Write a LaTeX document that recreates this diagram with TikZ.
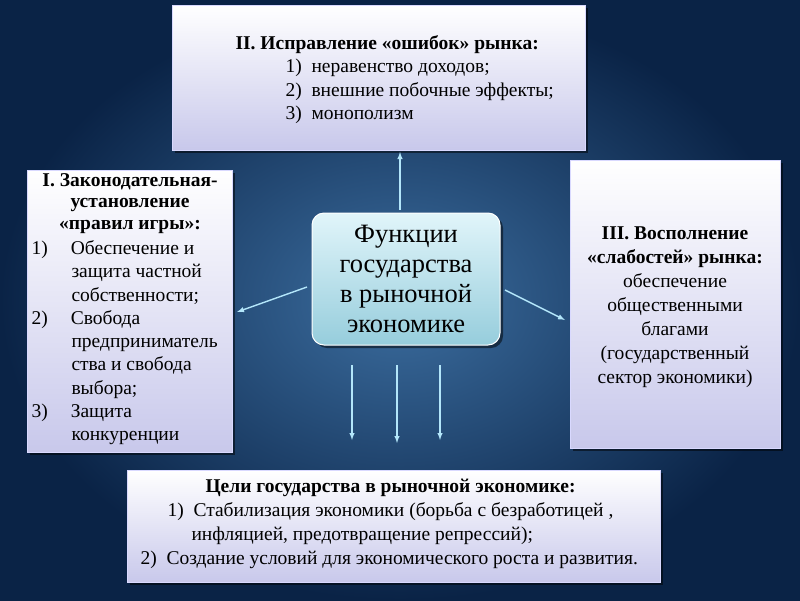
\documentclass[tikz,border=0pt]{standalone}
\usepackage{fontspec}
\setmainfont{Liberation Serif}
\usetikzlibrary{shadows}
\begin{document}
\begin{tikzpicture}[x=1pt,y=-1pt,
  box/.style={draw=white!85!blue,line width=0.6pt,top color=white,bottom color={rgb,255:red,200;green,200;blue,235},
    drop shadow={shadow xshift=3pt,shadow yshift=-3pt,fill=black,opacity=0.5},anchor=north west,inner sep=4pt},
  arr/.style={->,draw=cyan!30!white,line width=1.4pt,>={latex}}]
\useasboundingbox (0,0) rectangle (800,600);
\shade[inner color={rgb,255:red,60;green,110;blue,160},outer color={rgb,255:red,10;green,35;blue,70}] (0,0) rectangle (800,600);
% top
\node[box,minimum width=413pt,minimum height=145pt] (top) at (172,5) {};
\node[anchor=north west,align=left,font=\fontsize{19.5}{23.5}\selectfont] (toptxt) at (232,32) {\textbf{II. Исправление «ошибок» рынка:}\\
\hspace*{50pt}1)\ \ неравенство доходов;\\
\hspace*{50pt}2)\ \ внешние побочные эффекты;\\
\hspace*{50pt}3)\ \ монополизм};
% left
\node[box,minimum width=205pt,minimum height=282pt] (left) at (27,170) {};
\node[anchor=north,align=center,font=\fontsize{19.5}{21.5}\selectfont] (lt) at (130,170) {\textbf{I. Законодательная-}\\ \textbf{установление}\\ \textbf{«правил игры»:}};
\node[anchor=north west,align=left,font=\fontsize{19.5}{23.3}\selectfont] (ll) at (28,237) {1)\hspace{23pt}Обеспечение и\\
\hspace*{40pt}защита частной\\
\hspace*{40pt}собственности;\\
2)\hspace{23pt}Свобода\\
\hspace*{40pt}предприниматель\\
\hspace*{40pt}ства и свобода\\
\hspace*{40pt}выбора;\\
3)\hspace{23pt}Защита\\
\hspace*{40pt}конкуренции};
% right
\node[box,minimum width=210pt,minimum height=288pt] (right) at (570,160) {};
\node[align=center,font=\fontsize{19.5}{24}\selectfont] (rt) at (675,307) {\textbf{III. Восполнение}\\ \textbf{«слабостей» рынка:}\\ обеспечение\\ общественными\\ благами\\ (государственный\\ сектор экономики)};
% bottom
\node[box,minimum width=533pt,minimum height=112pt] (bot) at (127,470) {};
\node[anchor=north west,align=left,font=\fontsize{19.5}{24}\selectfont] (bt) at (137,476) {\hspace*{65pt}\textbf{Цели государства в рыночной экономике:}\\
\hspace*{27pt}1)\ \ Стабилизация экономики (борьба с безработицей ,\\
\hspace*{51pt}инфляцией, предотвращение репрессий);\\
\hspace*{0pt}2)\ \ Создание условий для экономического роста и развития.};
% center
\node[draw=white,line width=1pt,rounded corners=12pt,minimum width=188pt,minimum height=132pt,
  top color={rgb,255:red,225;green,245;blue,250},bottom color={rgb,255:red,150;green,205;blue,220},
  drop shadow={shadow xshift=3pt,shadow yshift=-3pt,fill=black,opacity=0.5},
  align=center,font=\fontsize{26.5}{30}\selectfont] (c) at (406,279) {Функции\\ государства\\ в рыночной\\ экономике};
% arrows
\coordinate (d1) at (352,440); \coordinate (d2) at (397,443); \coordinate (d3) at (440,440);
\coordinate (s1) at (352,365); \coordinate (s2) at (397,365); \coordinate (s3) at (440,365);
\draw[arr] (c.north) ++(-6,-3) coordinate (cu) -- (400,152) coordinate (tu);
\draw[arr] (307,287) coordinate (cl) -- (237,312);
\draw[arr] (505,290) coordinate (cr) -- (565,320);
\draw[arr] (s1) -- (d1);
\draw[arr] (s2) -- (d2);
\draw[arr] (s3) -- (d3);
\end{tikzpicture}
\end{document}
